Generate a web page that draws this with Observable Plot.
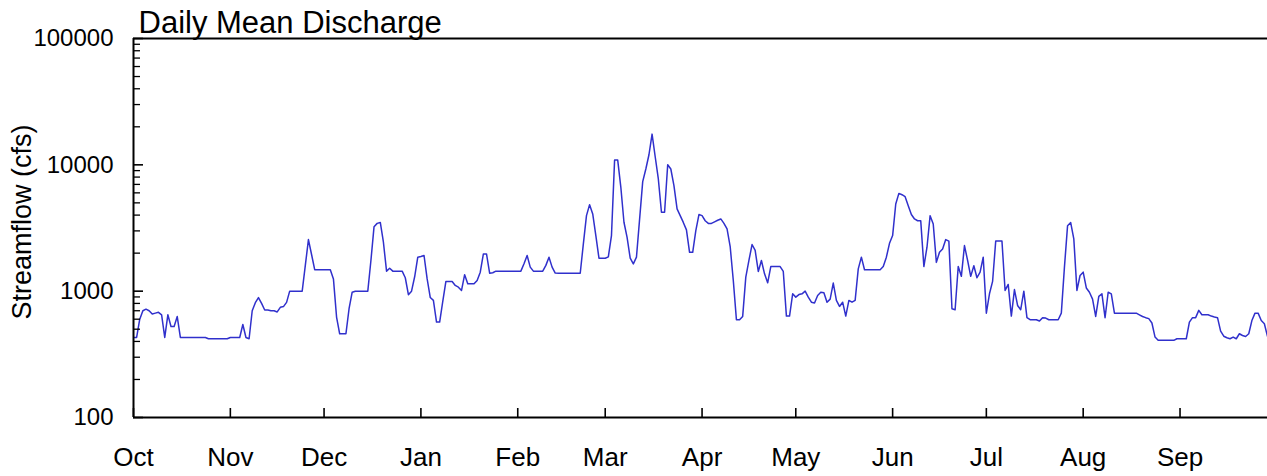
<!DOCTYPE html>
<html>
<head>
<meta charset="utf-8">
<script src="https://cdn.jsdelivr.net/npm/d3@7"></script>
<script src="https://cdn.jsdelivr.net/npm/@observablehq/plot@0.6"></script>
<style>
  html, body { margin: 0; padding: 0; background: #fff; }
  #chart svg { font-family: "Liberation Sans", Arial, sans-serif; }
</style>
</head>
<body>
<div id="chart"></div>
<script>
// Daily mean discharge (cfs), water year Oct 1 – Sep 30
const oct = [430,430,600,700,720,700,660,670,680,650, 430,650,525,525,630,430,430,430,430,430, 430,430,430,430,420,420,420,420,420,420, 420];
const nov = [430,430,430,430,545,430,420,700,810,890, 800,710,710,700,700,685,745,755,815,1000, 1000,1000,1000,1000,1600,2560,1950,1480,1480,1480];
const dec = [1480,1480,1480,1250,624,460,460,460,726,981, 1000,1000,1000,1000,1000,1750,3240,3440,3500,2440, 1440,1520,1440,1440,1440,1440,1277,937,1000,1300, 1858];
const jan = [1880,1915,1250,890,845,569,569,830,1194,1194, 1194,1110,1076,1013,1350,1143,1143,1143,1215,1414, 1972,1972,1387,1400,1440,1440,1440,1440,1440,1440, 1440];
const feb = [1440,1440,1650,1915,1550,1440,1440,1440,1440,1600, 1858,1550,1390,1387,1387,1387,1387,1387,1387,1387, 1387,2366,3960,4840,4085,2755,1823,1823];
const mar = [1823,1870,2755,10900,10900,6640,3510,2670,1823,1644, 1858,3700,7370,9270,12020,17500,11590,7730,4210,4210, 10020,9270,6840,4480,3960,3500,3055,2030,2030,3010, 4040];
const apr = [3960,3610,3440,3440,3540,3640,3730,3440,3110,2255, 1215,594,594,631,1291,1750,2340,2100,1432,1750, 1371,1164,1566,1566,1566,1566,1432,635,635,953];
const may = [897,940,953,1000,897,818,805,925,980,970, 818,865,1160,845,757,818,635,845,818,845, 1500,1858,1476,1476,1476,1476,1476,1476,1566,1858, 2393];
const jun = [2755,4900,5940,5800,5600,4750,4040,3730,3610,3610, 1566,2228,3960,3400,1690,2030,2160,2560,2490,726, 713,1566,1310,2296,1750,1310,1590,1277,1414,1858];
const jul = [670,953,1194,2490,2490,2490,1013,1130,635,1030, 771,713,1000,617,594,594,594,580,617,612, 594,594,594,594,670,1550,3300,3490,2590,1013, 1330];
const aug = [1414,1060,980,865,631,910,953,617,980,953, 670,670,670,670,670,670,670,670,650,630, 617,606,560,433,408,408,408,408,408,408, 420];
const sep = [420,420,420,569,617,617,705,650,650,650, 635,625,617,483,440,428,420,433,420,460, 446,438,460,585,670,670,585,552,440,420];

const monthLabels = ["Oct","Nov","Dec","Jan","Feb","Mar","Apr","May","Jun","Jul","Aug","Sep"];
const majorTicks = [100, 1000, 10000, 100000];
const minorTicks = [200,300,400,500,600,700,800,900, 2000,3000,4000,5000,6000,7000,8000,9000, 20000,30000,40000,50000,60000,70000,80000,90000];
const titleText = "Daily Mean Discharge";
const yLabelText = "Streamflow (cfs)";

const start = new Date(Date.UTC(2002, 9, 1));
const end = new Date(Date.UTC(2003, 8, 29));
const values = [].concat(oct, nov, dec, jan, feb, mar, apr, may, jun, jul, aug, sep);
const data = values.map((q, i) => ({date: d3.utcDay.offset(start, i), q}));
const monthStarts = d3.utcMonth.range(start, d3.utcDay.offset(end, 2));

const chart = Plot.plot({
  width: 1267,
  height: 476,
  marginLeft: 133,
  marginRight: 0,
  marginTop: 38,
  marginBottom: 59,
  style: {background: "white", color: "black", fontFamily: "Liberation Sans, Arial, sans-serif", overflow: "visible"},
  x: {type: "utc", domain: [start, end]},
  y: {type: "log", domain: [100, 100000]},
  marks: [
    Plot.line(data, {x: "date", y: "q", stroke: "#3030cc", strokeWidth: 1.5, clip: true}),
    Plot.axisY({ticks: minorTicks, tickSize: 7, dx: 7, fill: "none", label: null, strokeWidth: 1.3}),
    Plot.axisY({ticks: majorTicks, tickSize: 10, dx: 10, fill: "none", label: null, strokeWidth: 1.6}),
    Plot.axisY({ticks: majorTicks, tickSize: 0, tickPadding: 20, tickFormat: d => String(d), fontSize: 24, label: null}),
    Plot.axisX({ticks: monthStarts, tickSize: 9, dy: -9, fill: "none", label: null, strokeWidth: 1.6}),
    Plot.axisX({ticks: monthStarts, tickSize: 0, tickPadding: 30, tickFormat: d => monthLabels[(d.getUTCMonth() + 3) % 12], fontSize: 26, label: null}),
    Plot.ruleY([100000], {strokeWidth: 2}),
    Plot.ruleY([100], {strokeWidth: 2}),
    Plot.ruleX([start], {strokeWidth: 2}),
    Plot.text([titleText], {frameAnchor: "top-left", text: d => d, dx: 5, dy: -28, lineAnchor: "top", textAnchor: "start", fontSize: 31}),
    Plot.text([yLabelText], {frameAnchor: "left", text: d => d, rotate: -90, dx: -111, dy: -6, fontSize: 27, textAnchor: "middle", lineAnchor: "middle"})
  ]
});
document.getElementById("chart").appendChild(chart);
</script>
</body>
</html>
